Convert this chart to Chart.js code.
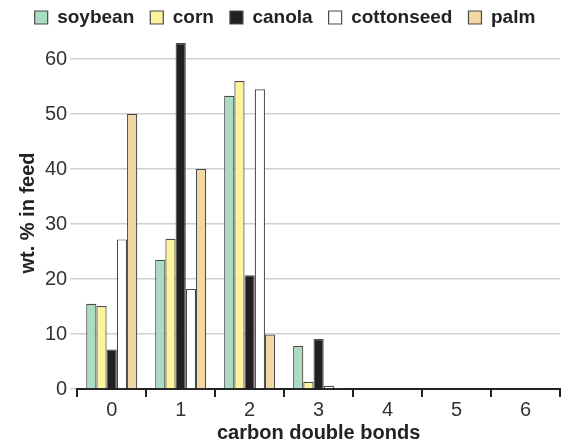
<!DOCTYPE html>
<html>
<head>
<meta charset="utf-8">
<script src="https://cdn.jsdelivr.net/npm/chart.js@4.4.1/dist/chart.umd.min.js"></script>
<style>
  html, body { margin: 0; padding: 0; background: #fff; }
  #wrap { width: 565px; height: 446px; }
</style>
</head>
<body>
<div id="wrap"><canvas id="grafico"></canvas></div>
<script>
// Datos
const categorias = ['0', '1', '2', '3', '4', '5', '6'];
const soybean    = [15.5, 23.5, 53.3, 7.8, 0.1, 0.1, 0];
const corn       = [15.1, 27.3, 56.0, 1.3, 0.1, 0.1, 0];
const canola     = [7.2, 62.9, 20.7, 9.1, 0.1, 0.2, 0];
const cottonseed = [27.2, 18.2, 54.5, 0.6, 0.1, 0.1, 0];
const palm       = [50.0, 40.0, 9.9, 0.2, 0.1, 0.1, 0];
const marcasY    = [0, 10, 20, 30, 40, 50, 60];

const fuente = 'Liberation Sans, Arial, Helvetica, sans-serif';

function serie(label, data, color) {
    return {
        label: label,
        data: data,
        backgroundColor: color,
        borderColor: '#4a4a4a',
        borderWidth: 1.2,
        barPercentage: 1,
        categoryPercentage: 0.74
    };
}

const ctx = document.getElementById('grafico').getContext('2d');
new Chart(ctx, {
    type: 'bar',
    data: {
        labels: categorias,
        datasets: [
            serie('soybean', soybean, '#a9dcc0'),
            serie('corn', corn, '#fdf39a'),
            serie('canola', canola, '#231f20'),
            serie('cottonseed', cottonseed, '#ffffff'),
            serie('palm', palm, '#f3d7a2')
        ]
    },
    options: {
        responsive: true,
        maintainAspectRatio: false,
        animation: false,
        layout: { padding: { left: 10, right: 5, top: -8, bottom: 0 } },
        plugins: {
            legend: {
                position: 'top',
                labels: {
                    font: { family: fuente, size: 19, weight: 'bold' },
                    color: '#222',
                    boxWidth: 13,
                    boxHeight: 13,
                    padding: 16
                }
            },
            tooltip: { enabled: false }
        },
        scales: {
            x: {
                grid: {
                    offset: true,
                    drawOnChartArea: false,
                    color: '#222',
                    lineWidth: 2,
                    tickLength: 8
                },
                border: { display: true, color: '#222', width: 2 },
                ticks: {
                    font: { family: fuente, size: 20, lineHeight: 1 },
                    color: '#333',
                    padding: 3
                },
                title: {
                    display: true,
                    text: 'carbon double bonds',
                    font: { family: fuente, size: 20, weight: 'bold', lineHeight: 1 },
                    color: '#222',
                    padding: { top: 0, bottom: 3 }
                }
            },
            y: {
                min: 0,
                max: 64,
                afterBuildTicks: function (eje) {
                    eje.ticks = marcasY.map(v => ({ value: v }));
                },
                ticks: {
                    autoSkip: false,
                    font: { family: fuente, size: 20 },
                    color: '#333',
                    padding: 3
                },
                grid: {
                    color: '#cfcfcf',
                    lineWidth: 1.5,
                    tickLength: 7
                },
                border: { display: false },
                title: {
                    display: true,
                    text: 'wt. % in feed',
                    font: { family: fuente, size: 20, weight: 'bold' },
                    color: '#222',
                    padding: { top: 6, bottom: 2 }
                }
            }
        }
    }
});
</script>
</body>
</html>
